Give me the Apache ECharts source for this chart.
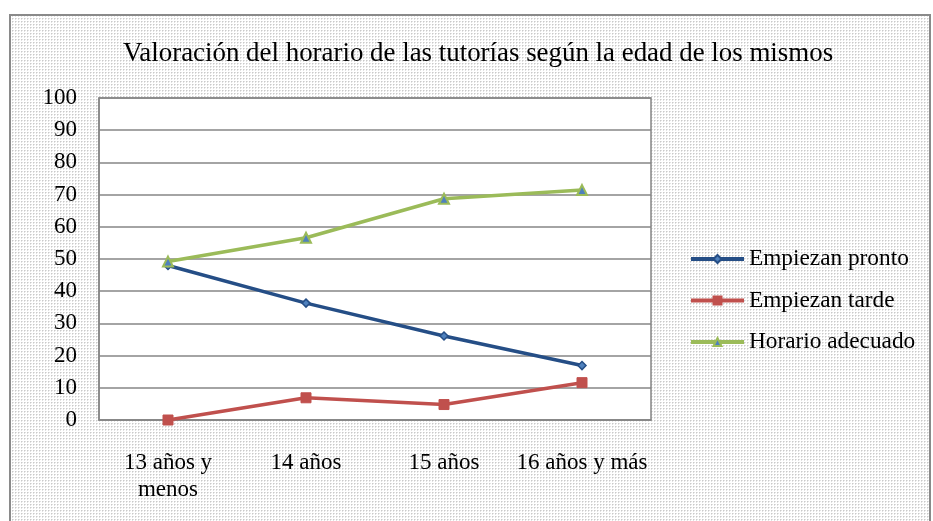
<!DOCTYPE html>
<html>
<head>
<meta charset="utf-8">
<script src="https://cdn.jsdelivr.net/npm/echarts@6/dist/echarts.min.js"></script>
<style>
  html, body { margin: 0; padding: 0; background: #fff; }
  #myChart { width: 933px; height: 521px; }
</style>
</head>
<body>
<div id="myChart"></div>
<script>
const categories = ["13 años y\nmenos", "14 años", "15 años", "16 años y más"];
const empiezanPronto = [48, 36.3, 26.1, 16.9];
const empiezanTarde = [0, 6.9, 4.8, 11.6];
const horarioAdecuado = [49.2, 56.6, 68.7, 71.4];
const yTicks = [0, 10, 20, 30, 40, 50, 60, 70, 80, 90, 100];

const font = "'Liberation Serif', 'DejaVu Serif', serif";

// dotted fill like the excel pattern
const dots = document.createElement("canvas");
dots.width = 3;
dots.height = 3;
const ctx = dots.getContext("2d");
ctx.fillStyle = "#ffffff";
ctx.fillRect(0, 0, 3, 3);
ctx.fillStyle = "#cacaca";
ctx.fillRect(0, 0, 1, 1);
ctx.fillStyle = "#e2e2e2";
ctx.fillRect(1, 0, 1, 1);
ctx.fillRect(0, 1, 1, 1);

const myChart = echarts.init(document.getElementById("myChart"));

const option = {
  backgroundColor: "#fff",
  animation: false,
  graphic: [{
    type: "rect",
    z: -10,
    shape: { x: 10, y: 15, width: 920, height: 520 },
    style: { fill: { image: dots, repeat: "repeat" }, stroke: "#8a8a8a", lineWidth: 2 }
  }],
  title: {
    text: "Valoración del horario de las tutorías según la edad de los mismos",
    left: 473,
    textAlign: "center",
    top: 35,
    textStyle: { fontFamily: font, fontSize: 26.9, fontWeight: "normal", color: "#000" }
  },
  legend: {
    orient: "vertical",
    left: 684,
    top: 242,
    itemWidth: 53,
    itemHeight: 10,
    itemGap: 17.5,
    lineStyle: { width: 4 },
    textStyle: { fontFamily: font, fontSize: 23.3, color: "#000", lineHeight: 24 },
    data: ["Empiezan pronto", "Empiezan tarde", "Horario adecuado"]
  },
  grid: {
    left: 99,
    top: 98,
    width: 552,
    height: 322,
    show: true,
    backgroundColor: "#fff",
    borderColor: "#868686",
    borderWidth: 1.5
  },
  xAxis: {
    type: "category",
    data: categories,
    boundaryGap: true,
    axisLine: { lineStyle: { color: "#868686", width: 1.5 } },
    axisTick: { show: false },
    axisLabel: { fontFamily: font, fontSize: 23, color: "#000", margin: 29, lineHeight: 27, interval: 0 }
  },
  yAxis: {
    type: "value",
    min: yTicks[0],
    max: yTicks[yTicks.length - 1],
    interval: 10,
    axisLine: { show: true, lineStyle: { color: "#868686", width: 1.5 } },
    axisTick: { show: false },
    splitLine: { lineStyle: { color: "#868686", width: 1.5 } },
    axisLabel: { fontFamily: font, fontSize: 23, color: "#000", margin: 22 }
  },
  series: [
    {
      name: "Empiezan pronto",
      type: "line",
      data: empiezanPronto,
      symbol: "diamond",
      symbolSize: 8,
      lineStyle: { color: "#254E86", width: 3.5 },
      itemStyle: { color: "#4F81BD", borderColor: "#254E86", borderWidth: 1.5 }
    },
    {
      name: "Empiezan tarde",
      type: "line",
      data: empiezanTarde,
      symbol: "rect",
      symbolSize: 10,
      lineStyle: { color: "#C0504D", width: 3.5 },
      itemStyle: { color: "#C0504D", borderColor: "#C0504D", borderWidth: 1 }
    },
    {
      name: "Horario adecuado",
      type: "line",
      data: horarioAdecuado,
      symbol: "triangle",
      symbolSize: 10,
      lineStyle: { color: "#9BBB59", width: 3.5 },
      itemStyle: { color: "#4F81BD", borderColor: "#9BBB59", borderWidth: 2 }
    }
  ]
};

myChart.setOption(option);
window.addEventListener("resize", function() {
  if (myChart != null && myChart != undefined) {
    myChart.resize();
  }
});
</script>
</body>
</html>
